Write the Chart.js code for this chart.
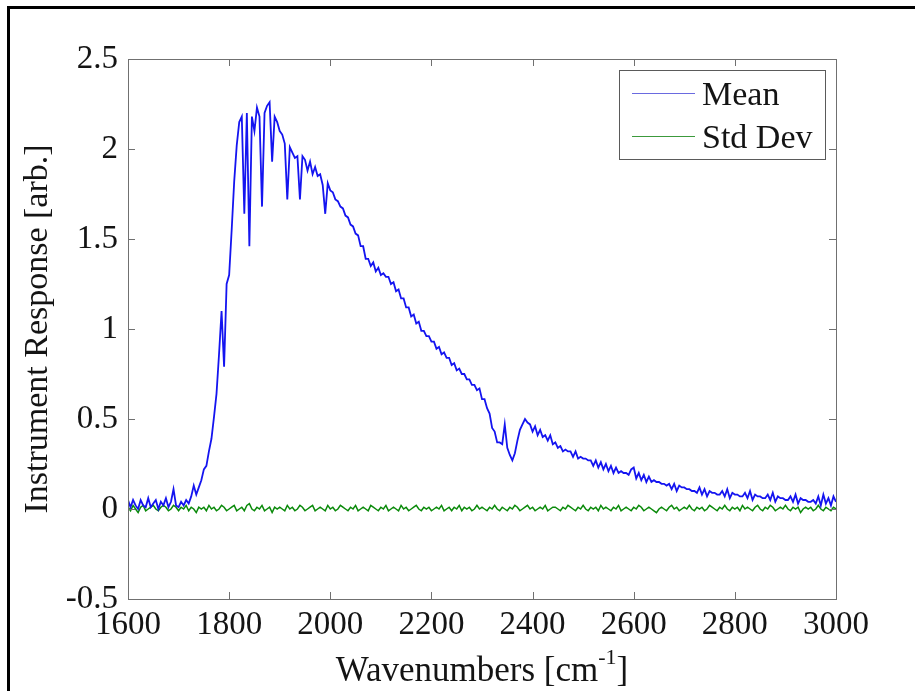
<!DOCTYPE html>
<html>
<head>
<meta charset="utf-8">
<script src="https://cdn.jsdelivr.net/npm/chart.js@4.4.1/dist/chart.umd.min.js"></script>
<style>
  html, body { margin: 0; padding: 0; background: #fff; }
  #wrap { width: 915px; height: 691px; position: relative; }
</style>
</head>
<body>
<div id="wrap"><canvas id="spectrum" width="915" height="691"></canvas></div>
<script>
// ===== Data =====
// sampled every 5 cm^-1 from 1600 to 3000, one row = 50 cm^-1
const meanResponse = [
  0.05, 0.01, 0.05, 0.02, 0.00, 0.05, 0.02, 0.01, 0.06, 0.01, // 1600
  0.03, 0.05, 0.00, 0.04, 0.02, 0.06, 0.01, 0.04, 0.11, 0.02, // 1650
  0.01, 0.04, 0.02, 0.05, 0.03, 0.07, 0.13, 0.08, 0.12, 0.16, // 1700
  0.22, 0.24, 0.32, 0.39, 0.51, 0.64, 0.86, 1.10, 0.79, 1.25, // 1750
  1.30, 1.55, 1.82, 2.02, 2.15, 2.18, 1.64, 2.20, 1.46, 2.18, // 1800
  2.10, 2.23, 2.18, 1.68, 2.20, 2.24, 2.26, 1.93, 2.18, 2.15, // 1850
  2.10, 2.08, 2.03, 1.72, 2.01, 1.98, 1.95, 1.96, 1.72, 1.96, // 1900
  1.94, 1.88, 1.93, 1.86, 1.90, 1.85, 1.86, 1.80, 1.64, 1.81, // 1950
  1.77, 1.76, 1.72, 1.71, 1.68, 1.67, 1.63, 1.62, 1.58, 1.57, // 2000
  1.53, 1.52, 1.46, 1.46, 1.39, 1.39, 1.35, 1.37, 1.32, 1.34, // 2050
  1.30, 1.31, 1.29, 1.29, 1.25, 1.26, 1.21, 1.22, 1.17, 1.17, // 2100
  1.12, 1.12, 1.07, 1.08, 1.03, 1.04, 0.99, 0.99, 0.96, 0.96, // 2150
  0.93, 0.93, 0.89, 0.90, 0.86, 0.87, 0.84, 0.84, 0.80, 0.81, // 2200
  0.77, 0.78, 0.75, 0.75, 0.72, 0.72, 0.69, 0.69, 0.66, 0.67, // 2250
  0.61, 0.61, 0.56, 0.53, 0.45, 0.43, 0.37, 0.37, 0.36, 0.47, // 2300
  0.34, 0.30, 0.27, 0.31, 0.38, 0.44, 0.47, 0.50, 0.48, 0.47, // 2350
  0.43, 0.46, 0.41, 0.44, 0.40, 0.41, 0.38, 0.41, 0.36, 0.37, // 2400
  0.34, 0.35, 0.32, 0.33, 0.32, 0.32, 0.29, 0.32, 0.28, 0.29, // 2450
  0.28, 0.28, 0.27, 0.27, 0.24, 0.27, 0.23, 0.26, 0.22, 0.25, // 2500
  0.21, 0.24, 0.20, 0.23, 0.20, 0.21, 0.20, 0.20, 0.19, 0.22, // 2550
  0.23, 0.17, 0.20, 0.16, 0.19, 0.15, 0.18, 0.15, 0.16, 0.15, // 2600
  0.15, 0.14, 0.14, 0.13, 0.14, 0.11, 0.14, 0.10, 0.13, 0.12, // 2650
  0.12, 0.11, 0.11, 0.10, 0.10, 0.09, 0.12, 0.08, 0.11, 0.07, // 2700
  0.10, 0.09, 0.09, 0.08, 0.08, 0.10, 0.07, 0.11, 0.06, 0.09, // 2750
  0.08, 0.08, 0.07, 0.07, 0.09, 0.06, 0.10, 0.05, 0.08, 0.07, // 2800
  0.07, 0.06, 0.06, 0.08, 0.05, 0.09, 0.04, 0.07, 0.06, 0.06, // 2850
  0.05, 0.05, 0.07, 0.04, 0.08, 0.03, 0.06, 0.05, 0.05, 0.04, // 2900
  0.04, 0.05, 0.03, 0.07, 0.02, 0.08, 0.03, 0.06, 0.02, 0.07, // 2950
  0.04                                                        // 3000
];

const stdDevResponse = [
  0.01, -0.01, 0.02, 0.00, -0.02, 0.01, 0.02, -0.01, 0.00, 0.01, // 1600
  0.02, 0.00, -0.01, 0.01, 0.02, 0.01, -0.01, 0.00, 0.02, 0.01, // 1650
  -0.01, 0.01, 0.00, 0.02, -0.01, 0.01, 0.00, -0.02, 0.01, 0.00, // 1700
  0.01, -0.01, 0.02, 0.00, 0.01, -0.01, 0.00, 0.02, 0.01, -0.01, // 1750
  0.00, 0.01, 0.02, -0.01, 0.00, 0.01, -0.01, 0.02, 0.03, 0.00, // 1800
  -0.01, 0.01, 0.00, 0.02, -0.01, 0.00, 0.01, -0.02, 0.01, 0.00, // 1850
  0.01, 0.00, -0.01, 0.02, 0.00, 0.01, -0.01, 0.00, 0.02, 0.01, // 1900
  -0.01, 0.00, 0.01, 0.02, -0.01, 0.00, 0.01, 0.00, -0.01, 0.02, // 1950
  0.00, 0.01, -0.01, 0.00, 0.02, 0.01, 0.00, -0.01, 0.01, 0.00, // 2000
  0.02, -0.01, 0.00, 0.01, 0.00, -0.01, 0.02, 0.01, 0.00, -0.01, // 2050
  0.01, 0.00, 0.02, -0.01, 0.00, 0.01, 0.00, -0.01, 0.02, 0.00, // 2100
  0.01, -0.01, 0.00, 0.01, 0.02, 0.00, -0.01, 0.01, 0.00, 0.01, // 2150
  -0.01, 0.00, 0.01, 0.00, 0.02, -0.01, 0.00, 0.01, -0.01, 0.01, // 2200
  0.00, 0.02, -0.01, 0.01, 0.00, 0.01, -0.01, 0.00, 0.02, 0.00, // 2250
  0.01, 0.00, -0.01, 0.01, 0.00, 0.02, 0.00, -0.01, 0.01, 0.00, // 2300
  -0.01, 0.01, 0.00, 0.02, 0.01, -0.01, 0.00, 0.01, 0.02, 0.00, // 2350
  0.01, -0.01, 0.00, 0.01, 0.00, 0.02, -0.01, 0.00, 0.01, 0.01, // 2400
  0.00, -0.01, 0.01, 0.00, 0.02, 0.01, 0.00, -0.01, 0.01, 0.00, // 2450
  0.02, 0.00, -0.01, 0.01, 0.00, 0.01, -0.01, 0.02, 0.00, 0.01, // 2500
  0.00, -0.01, 0.01, 0.00, 0.02, -0.01, 0.00, 0.01, 0.00, -0.01, // 2550
  0.01, 0.00, 0.02, 0.01, -0.01, 0.00, 0.01, 0.00, -0.01, -0.02, // 2600
  0.00, 0.01, 0.00, -0.01, 0.01, 0.02, 0.00, 0.01, -0.01, 0.00, // 2650
  0.01, 0.00, 0.02, 0.00, -0.01, 0.01, 0.00, 0.01, -0.01, 0.00, // 2700
  0.02, 0.01, 0.00, -0.01, 0.01, 0.00, 0.02, 0.00, -0.01, 0.01, // 2750
  0.00, 0.01, -0.01, 0.02, 0.00, 0.01, 0.00, -0.01, 0.01, 0.02, // 2800
  0.00, -0.01, 0.01, 0.00, 0.02, 0.01, -0.01, 0.00, 0.01, 0.00, // 2850
  0.02, 0.00, -0.01, 0.01, 0.00, 0.01, -0.02, 0.00, 0.01, 0.00, // 2900
  0.01, -0.01, 0.00, 0.02, 0.00, -0.01, 0.01, 0.00, -0.01, 0.01, // 2950
  0.00                                                         // 3000
];

const waveStart = 1600;
const waveStep = 5;
const xTickValues = [1600, 1800, 2000, 2200, 2400, 2600, 2800, 3000];
const yTickValues = [-0.5, 0, 0.5, 1, 1.5, 2, 2.5];
const seriesNames = ['Mean', 'Std Dev'];

// ===== Styling =====
const SERIF = "'Liberation Serif', 'Times New Roman', serif";
const MEAN_COLOR = '#1414f0';
const STD_COLOR = '#0a8a0a';
const AXIS_COLOR = '#707070';
const TEXT_COLOR = '#141414';

const wavenumbers = meanResponse.map((_, i) => waveStart + i * waveStep);
const toPoints = vals => vals.map((v, i) => ({ x: wavenumbers[i], y: v }));

// draws the matlab-ish frame, inner ticks, legend box, titles and the outer border
const matlabFrame = {
  id: 'matlabFrame',
  afterDraw(chart) {
    const { ctx, chartArea: a, scales: { x, y } } = chart;
    ctx.save();

    // axes box
    ctx.strokeStyle = AXIS_COLOR;
    ctx.lineWidth = 1;
    ctx.strokeRect(a.left + 0.5, a.top + 0.5, a.right - a.left, a.bottom - a.top);

    // inner ticks
    ctx.beginPath();
    xTickValues.forEach(v => {
      const px = Math.round(x.getPixelForValue(v)) + 0.5;
      ctx.moveTo(px, a.bottom); ctx.lineTo(px, a.bottom - 7);
      ctx.moveTo(px, a.top); ctx.lineTo(px, a.top + 7);
    });
    yTickValues.forEach(v => {
      const py = Math.round(y.getPixelForValue(v)) + 0.5;
      ctx.moveTo(a.left, py); ctx.lineTo(a.left + 7, py);
      ctx.moveTo(a.right, py); ctx.lineTo(a.right - 7, py);
    });
    ctx.stroke();

    // legend
    const lg = { x: 619, y: 70, w: 206, h: 89 };
    ctx.fillStyle = '#fff';
    ctx.fillRect(lg.x, lg.y, lg.w, lg.h);
    ctx.strokeStyle = '#5a5a5a';
    ctx.strokeRect(lg.x + 0.5, lg.y + 0.5, lg.w, lg.h);
    const rows = [
      { name: seriesNames[0], color: '#6a6ae0', cy: 93 },
      { name: seriesNames[1], color: '#3c9a3c', cy: 136 }
    ];
    ctx.font = `34px ${SERIF}`;
    ctx.textBaseline = 'middle';
    ctx.textAlign = 'left';
    rows.forEach(r => {
      ctx.strokeStyle = r.color;
      ctx.lineWidth = 1;
      ctx.beginPath();
      ctx.moveTo(632, r.cy + 0.5); ctx.lineTo(695, r.cy + 0.5);
      ctx.stroke();
      ctx.fillStyle = TEXT_COLOR;
      ctx.fillText(r.name, 702, r.cy + 3);
    });

    // x title with superscript
    const main = 'Wavenumbers [cm';
    const sup = '-1';
    const tail = ']';
    ctx.font = `35px ${SERIF}`;
    const wMain = ctx.measureText(main).width;
    const wTail = ctx.measureText(tail).width;
    ctx.font = `22px ${SERIF}`;
    const wSup = ctx.measureText(sup).width;
    const total = wMain + wSup + wTail;
    let tx = (a.left + a.right) / 2 - total / 2;
    const base = 681;
    ctx.textBaseline = 'alphabetic';
    ctx.fillStyle = TEXT_COLOR;
    ctx.font = `35px ${SERIF}`;
    ctx.fillText(main, tx, base);
    tx += wMain;
    ctx.font = `22px ${SERIF}`;
    ctx.fillText(sup, tx, base - 17);
    tx += wSup;
    ctx.font = `35px ${SERIF}`;
    ctx.fillText(tail, tx, base);

    // y title
    ctx.save();
    ctx.translate(38, (a.top + a.bottom) / 2);
    ctx.rotate(-Math.PI / 2);
    ctx.textAlign = 'center';
    ctx.textBaseline = 'middle';
    ctx.font = `34px ${SERIF}`;
    ctx.fillText('Instrument Response [arb.]', 0, 0);
    ctx.restore();

    // outer figure border (left + top)
    ctx.fillStyle = '#000';
    ctx.fillRect(7, 6, chart.width - 7, 3);
    ctx.fillRect(7, 6, 3, chart.height - 6);

    ctx.restore();
  }
};

// ===== Chart =====
const ctx = document.getElementById('spectrum').getContext('2d');
const chart = new Chart(ctx, {
  type: 'line',
  data: {
    datasets: [
      {
        label: seriesNames[0],
        data: toPoints(meanResponse),
        borderColor: MEAN_COLOR,
        borderWidth: 1.8,
        pointRadius: 0,
        tension: 0
      },
      {
        label: seriesNames[1],
        data: toPoints(stdDevResponse),
        borderColor: STD_COLOR,
        borderWidth: 1.5,
        pointRadius: 0,
        tension: 0
      }
    ]
  },
  options: {
    responsive: false,
    animation: false,
    layout: { padding: { top: 59, right: 79, left: 0, bottom: 0 } },
    plugins: {
      legend: { display: false },
      tooltip: { enabled: false }
    },
    scales: {
      x: {
        type: 'linear',
        min: 1600,
        max: 3000,
        afterFit: s => { s.height = 92; },
        afterBuildTicks: s => { s.ticks = xTickValues.map(v => ({ value: v })); },
        grid: { display: false, drawTicks: false },
        border: { display: false },
        ticks: {
          color: TEXT_COLOR,
          font: { family: SERIF, size: 33 },
          padding: 7,
          maxRotation: 0,
          autoSkip: false,
          callback: v => String(v)
        }
      },
      y: {
        min: -0.5,
        max: 2.5,
        afterFit: s => { s.width = 128; },
        afterBuildTicks: s => { s.ticks = yTickValues.map(v => ({ value: v })); },
        grid: { display: false, drawTicks: false },
        border: { display: false },
        ticks: {
          color: TEXT_COLOR,
          font: { family: SERIF, size: 33 },
          padding: 10,
          callback: v => String(v)
        }
      }
    }
  },
  plugins: [matlabFrame]
});
</script>
</body>
</html>
